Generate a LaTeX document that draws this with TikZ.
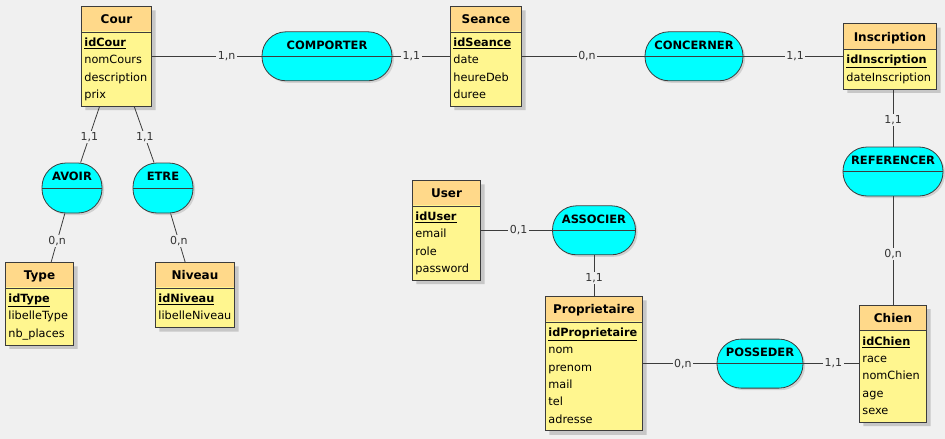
\documentclass[tikz,border=0pt]{standalone}
\usepackage{fontspec}
\setmainfont{DejaVu Sans}
\usetikzlibrary{shapes.multipart, shadows}
\definecolor{mcdBack}{HTML}{F0F0F0}
\definecolor{mcdHead}{HTML}{FFD98A}
\definecolor{mcdBody}{HTML}{FFF68F}
\definecolor{mcdRel}{HTML}{00FFFF}
\definecolor{mcdLine}{HTML}{3C3C3C}
\newcommand{\rs}{\rule[-5.3pt]{0pt}{17.3pt}}
\newcommand{\ehead}[1]{\centering\color{black}\bfseries\fontsize{12}{15}\selectfont\rule[-6pt]{0pt}{21pt}#1\par}
\newcommand{\pk}[1]{{\color{black}\underline{\textbf{#1}}}}

\begin{document}
\begin{tikzpicture}[x=1pt, y=-1pt,
  entity/.style={rectangle split, rectangle split parts=2, draw=mcdLine, line width=0.8pt,
    fill=mcdBody, inner xsep=3pt, inner ysep=2pt,
    path picture={\fill[mcdHead] (path picture bounding box.north west) rectangle ([yshift=-25pt]path picture bounding box.north east);},
    anchor=north west, align=left, text=black!80, font=\fontsize{11.3}{17.3}\selectfont,
    drop shadow={shadow xshift=4pt, shadow yshift=-4pt, fill=black!22, opacity=1}},
  rel/.style={draw=mcdLine, line width=0.8pt, fill=mcdRel, rounded corners=24pt,
    minimum height=49pt, inner sep=0pt, text height=17.4pt, text depth=31.6pt,
    font=\bfseries\fontsize{11.5}{14}\selectfont,
    path picture={\draw[mcdLine, line width=0.8pt] (path picture bounding box.west) -- (path picture bounding box.east);},
    drop shadow={shadow xshift=2pt, shadow yshift=-2pt, fill=black!18, opacity=1}},
  link/.style={draw=mcdLine, line width=0.8pt},
  card/.style={fill=mcdBack, inner sep=1.5pt, text=black!80, font=\fontsize{11}{13}\selectfont}]
  % Background
  \fill[mcdBack] (0,0) rectangle (945,439);
  \useasboundingbox (0,0) rectangle (945,439);
  % Entities
  \node[entity, text width=64.2pt] (cour) at (81,6)
    {\ehead{Cour}\nodepart{two}\pk{idCour}\rs\\nomCours\rs\\description\rs\\prix\rs};
  \node[entity, text width=65.2pt] (seance) at (450,6)
    {\ehead{Seance}\nodepart{two}\pk{idSeance}\rs\\date\rs\\heureDeb\rs\\duree\rs};
  \node[entity, text width=87.2pt] (inscription) at (843,23.3)
    {\ehead{Inscription}\nodepart{two}\pk{idInscription}\rs\\dateInscription\rs};
  \node[entity, text width=62.2pt] (user) at (412,180)
    {\ehead{User}\nodepart{two}\pk{idUser}\rs\\email\rs\\role\rs\\password\rs};
  \node[entity, text width=91.2pt] (proprietaire) at (545,296)
    {\ehead{Proprietaire}\nodepart{two}\pk{idProprietaire}\rs\\nom\rs\\prenom\rs\\mail\rs\\tel\rs\\adresse\rs};
  \node[entity, text width=61.2pt] (chien) at (859,304.65)
    {\ehead{Chien}\nodepart{two}\pk{idChien}\rs\\race\rs\\nomChien\rs\\age\rs\\sexe\rs};
  \node[entity, text width=62.2pt] (type) at (5,262)
    {\ehead{Type}\nodepart{two}\pk{idType}\rs\\libelleType\rs\\nb\_places\rs};
  \node[entity, text width=73.2pt] (niveau) at (155,262)
    {\ehead{Niveau}\nodepart{two}\pk{idNiveau}\rs\\libelleNiveau\rs};
  % Associations
  \node[rel, minimum width=130pt] (comporter) at (327,0 |- cour) {COMPORTER};
  \node[rel, minimum width=98pt] (concerner) at (694,0 |- seance) {CONCERNER};
  \node[rel, minimum width=100pt] (referencer) at (chien |- 0,171.5) {REFERENCER};
  \node[rel, minimum width=83pt] (associer) at (proprietaire |- user) {ASSOCIER};
  \node[rel, minimum width=86pt] (posseder) at (760,0 |- proprietaire) {POSSEDER};
  \node[rel, minimum width=60pt, minimum height=50pt] (avoir) at (72,188) {AVOIR};
  \node[rel, minimum width=60pt, minimum height=50pt] (etre) at (163,188) {ETRE};
  % Links with cardinalities
  \draw[link] (cour) -- node[card, pos=.68] (k1) {1,n} (comporter);
  \draw[link] (comporter) -- node[card, pos=.33] (k2) {1,1} (seance);
  \draw[link] (seance) -- node[card, pos=.53] (k3) {0,n} (concerner);
  \draw[link] (concerner) -- node[card, pos=.52] (k4) {1,1} (inscription);
  \draw[link] (referencer.north) -- node[card, pos=.46] (k5) {1,1} (referencer.north |- inscription.south);
  \draw[link] (referencer) -- node[card, pos=.53] (k6) {0,n} (chien);
  \draw[link] (user) -- node[card, pos=.53] (k7) {0,1} (associer);
  \draw[link] (associer) -- node[card, pos=.56] (k8) {1,1} (proprietaire);
  \draw[link] (proprietaire) -- node[card, pos=.54] (k9) {0,n} (posseder);
  \draw[link] (posseder) -- node[card, pos=.54] (k10) {1,1} (chien);
  \draw[link] (cour) -- node[card, pos=.54] (k11) {1,1} (avoir);
  \draw[link] (cour) -- node[card, pos=.54] (k12) {1,1} (etre);
  \draw[link] (avoir) -- node[card, pos=.57] (k13) {0,n} (type);
  \draw[link] (etre) -- node[card, pos=.57] (k14) {0,n} (niveau);
\end{tikzpicture}
\end{document}
